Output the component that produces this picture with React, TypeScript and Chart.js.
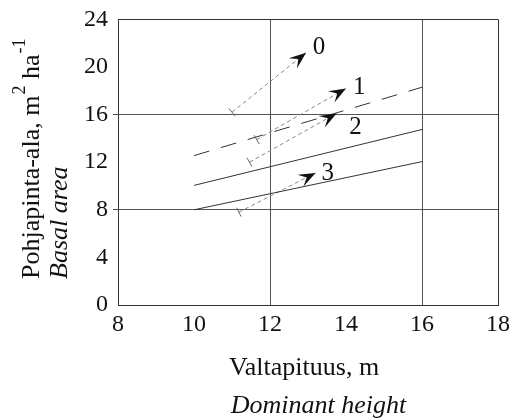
import React, { useEffect, useRef } from 'react';
import { Chart, registerables } from 'chart.js';
Chart.register(...registerables);

// Axes
const xMin = 8, xMax = 18, xStep = 2;
const yMin = 0, yMax = 24, yStep = 4;
const xGridValues = [12, 16];
const yGridValues = [8, 16];

// Reference lines (dashed, upper solid, lower solid)
const lineX0 = [10, 10, 10];
const lineY0 = [12.55, 10.05, 8.0];
const lineX1 = [16, 16, 16];
const lineY1 = [18.3, 14.75, 12.05];
const lineDashed = [true, false, false];

// Arrows (start -> end) with labels
const arrowLabels = ['0', '1', '2', '3'];
const arrowStartX = [11.0, 11.65, 11.46, 11.18];
const arrowStartY = [16.2, 13.9, 12.0, 7.8];
const arrowEndX = [12.95, 14.0, 13.75, 13.2];
const arrowEndY = [21.2, 18.2, 16.1, 11.1];
const labelX = [13.29, 14.35, 14.25, 13.52];
const labelY = [21.67, 18.25, 14.9, 11.08];

// Titles
const yTitleMain = 'Pohjapinta-ala, m';
const yTitleSup1 = '2';
const yTitleMid = ' ha';
const yTitleSup2 = '-1';
const yTitleSecond = 'Basal area';
const xTitleMain = 'Valtapituus, m';
const xTitleSecond = 'Dominant height';

const FONT = '"Liberation Serif", "Times New Roman", serif';

const annotations = {
  id: 'annotations',
  afterDatasetsDraw(chart: any) {
    const ctx = chart.ctx;
    const xs = chart.scales.x;
    const ys = chart.scales.y;
    ctx.save();
    for (let i = 0; i < arrowLabels.length; i++) {
      const sx = xs.getPixelForValue(arrowStartX[i]);
      const sy = ys.getPixelForValue(arrowStartY[i]);
      const ex = xs.getPixelForValue(arrowEndX[i]);
      const ey = ys.getPixelForValue(arrowEndY[i]);
      const ang = Math.atan2(ey - sy, ex - sx);
      const px = Math.cos(ang + Math.PI / 2), py = Math.sin(ang + Math.PI / 2);
      ctx.strokeStyle = '#666';
      ctx.lineWidth = 1;
      ctx.beginPath();
      ctx.moveTo(sx - px * 5, sy - py * 5);
      ctx.lineTo(sx + px * 5, sy + py * 5);
      ctx.stroke();
      const L = 17, W = 6.5, N = 10;
      const cx = Math.cos(ang), cy = Math.sin(ang);
      const bx = ex - cx * L, by = ey - cy * L;
      const nx = ex - cx * N, ny = ey - cy * N;
      ctx.fillStyle = '#111';
      ctx.beginPath();
      ctx.moveTo(ex, ey);
      ctx.lineTo(bx + px * W, by + py * W);
      ctx.lineTo(nx, ny);
      ctx.lineTo(bx - px * W, by - py * W);
      ctx.closePath();
      ctx.fill();
      ctx.fillStyle = '#111';
      ctx.font = `25px ${FONT}`;
      ctx.textAlign = 'center';
      ctx.textBaseline = 'middle';
      ctx.fillText(arrowLabels[i], xs.getPixelForValue(labelX[i]), ys.getPixelForValue(labelY[i]));
    }
    ctx.restore();
  },
  afterDraw(chart: any) {
    const ctx = chart.ctx;
    ctx.save();
    ctx.fillStyle = '#111';
    ctx.translate(32, 279);
    ctx.rotate(-Math.PI / 2);
    ctx.textAlign = 'left';
    ctx.textBaseline = 'middle';
    let x = 0;
    ctx.font = `26px ${FONT}`;
    ctx.fillText(yTitleMain, x, 0);
    x += ctx.measureText(yTitleMain).width;
    ctx.font = `18px ${FONT}`;
    ctx.fillText(yTitleSup1, x + 1, -12);
    x += ctx.measureText(yTitleSup1).width + 1;
    ctx.font = `26px ${FONT}`;
    ctx.fillText(yTitleMid, x, 0);
    x += ctx.measureText(yTitleMid).width;
    ctx.font = `18px ${FONT}`;
    ctx.fillText(yTitleSup2, x + 1, -12);
    ctx.font = `italic 26px ${FONT}`;
    ctx.fillText(yTitleSecond, 0, 28);
    ctx.restore();

    ctx.save();
    ctx.fillStyle = '#111';
    ctx.textAlign = 'center';
    ctx.textBaseline = 'middle';
    ctx.font = `26px ${FONT}`;
    ctx.fillText(xTitleMain, 304, 368);
    ctx.font = `italic 26px ${FONT}`;
    ctx.fillText(xTitleSecond, 318.5, 406);
    ctx.restore();
  },
};

export default function App() {
  const ref = useRef<HTMLCanvasElement>(null);
  useEffect(() => {
    const datasets: any[] = [];
    for (let i = 0; i < lineX0.length; i++) {
      datasets.push({
        data: [{ x: lineX0[i], y: lineY0[i] }, { x: lineX1[i], y: lineY1[i] }],
        showLine: true,
        borderColor: '#333',
        borderWidth: 1,
        borderDash: lineDashed[i] ? [16, 12] : [],
        pointRadius: 0,
      });
    }
    for (let i = 0; i < arrowLabels.length; i++) {
      datasets.push({
        data: [{ x: arrowStartX[i], y: arrowStartY[i] }, { x: arrowEndX[i], y: arrowEndY[i] }],
        showLine: true,
        borderColor: '#888',
        borderWidth: 1,
        borderDash: [4, 3],
        pointRadius: 0,
      });
    }
    const chart = new Chart(ref.current!, {
      type: 'scatter',
      data: { datasets },
      plugins: [annotations],
      options: {
        animation: false,
        responsive: false,
        events: [],
        layout: { padding: { left: 0, top: 17, right: 13, bottom: 0 } },
        plugins: { legend: { display: false }, tooltip: { enabled: false } },
        scales: {
          x: {
            type: 'linear',
            min: xMin,
            max: xMax,
            afterFit: (s: any) => { s.height = 115; },
            ticks: { stepSize: xStep, color: '#111', padding: 5, font: { family: FONT, size: 24 } },
            grid: {
              drawTicks: false,
              color: (c: any) => xGridValues.includes(c.tick.value) ? '#555' : c.tick.value === xMax ? '#333' : 'transparent',
            },
            border: { display: true, color: '#333' },
          },
          y: {
            type: 'linear',
            min: yMin,
            max: yMax,
            afterFit: (s: any) => { s.width = 118; },
            ticks: { stepSize: yStep, color: '#111', padding: 5, font: { family: FONT, size: 24 } },
            grid: {
              drawTicks: true,
              tickLength: 5,
              tickColor: (c: any) => yGridValues.includes(c.tick.value) ? '#555' : 'transparent',
              color: (c: any) => yGridValues.includes(c.tick.value) ? '#555' : c.tick.value === yMax ? '#333' : 'transparent',
            },
            border: { display: true, color: '#333' },
          },
        },
      },
    });
    return () => chart.destroy();
  }, []);
  return (
    <div style={{ position: 'absolute', left: 0, top: 0, width: 515, height: 420, background: '#fff' }}>
      <canvas ref={ref} width={515} height={420} style={{ display: 'block' }} />
    </div>
  );
}
